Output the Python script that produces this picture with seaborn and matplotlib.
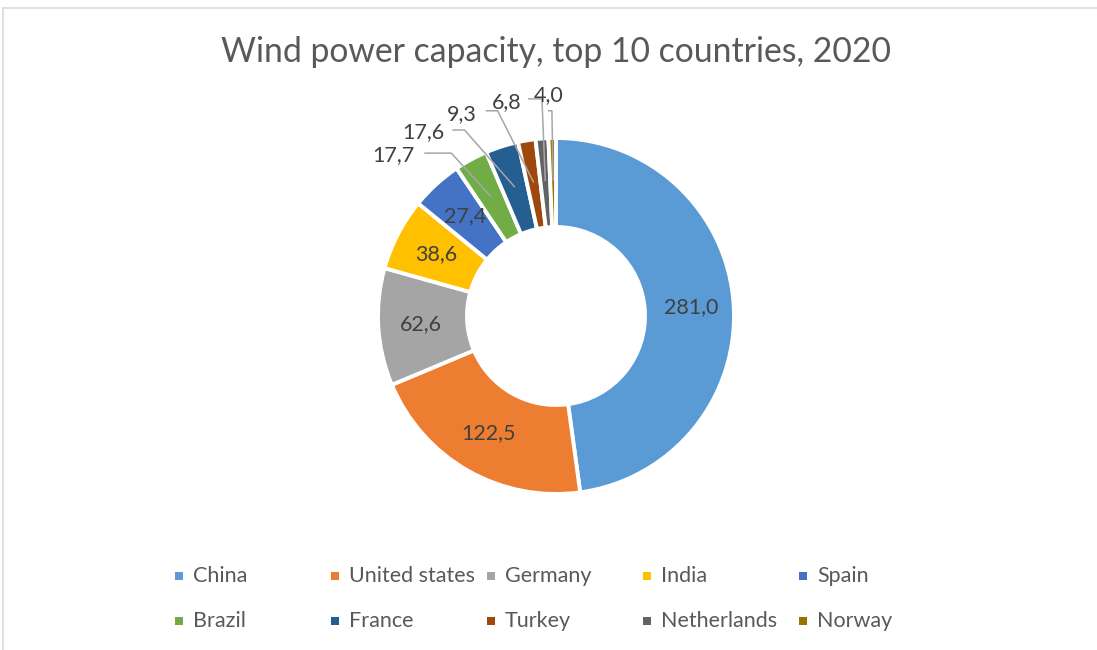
import matplotlib
matplotlib.use("Agg")
import numpy as np
import matplotlib.pyplot as plt
from matplotlib.patches import Rectangle
import seaborn as sns

# ---- data -------------------------------------------------------------
countries = ["China", "United states", "Germany", "India", "Spain",
             "Brazil", "France", "Turkey", "Netherlands", "Norway"]
capacity_gw = [281.0, 122.5, 62.6, 38.6, 27.4, 17.7, 17.6, 9.3, 6.8, 4.0]
title_text = "Wind power capacity, top 10 countries, 2020"

# ---- style ------------------------------------------------------------
colors = ["#5B9BD5", "#ED7D31", "#A5A5A5", "#FFC000", "#4472C4",
          "#70AD47", "#255E91", "#9E480E", "#636363", "#997300"]
label_color = "#404040"
text_color = "#595959"
leader_color = "#A6A6A6"

# thin slices get their labels outside with a leader line:
# index -> (label centre, line start, elbow) in axes units (radius = 1)
outside_layout = {
    5: ((-0.915, 0.904), (-0.740, 0.915), (-0.588, 0.915)),
    6: ((-0.746, 1.034), (-0.582, 1.045), (-0.514, 1.045)),
    7: ((-0.531, 1.136), (-0.395, 1.153), (-0.328, 1.153)),
    8: ((-0.277, 1.203), (-0.158, 1.220), (-0.079, 1.220)),
    9: ((-0.040, 1.243), (-0.045, 1.153), (-0.023, 1.153)),
}

sns.set_theme(style="white")
plt.rcParams["font.family"] = ["Lato", "DejaVu Sans"]

W, H = 1097, 650
fig = plt.figure(figsize=(W / 100, H / 100), dpi=100)

# chart frame
fig.add_artist(Rectangle((3 / W, -0.02), 1.2, 1 - 8 / H + 0.02,
                         transform=fig.transFigure, fill=False,
                         edgecolor="#D9D9D9", linewidth=1.2))

# donut axes: centre (556, 316) px, radius 178 px
cx, cy, R = 556, 316, 178
ax = fig.add_axes([(cx - R) / W, (H - cy - R) / H, 2 * R / W, 2 * R / H])

wedges, _ = ax.pie(capacity_gw, colors=colors, startangle=90,
                   counterclock=False, radius=1.0,
                   wedgeprops=dict(width=0.5, edgecolor="white", linewidth=2.8))
ax.set_xlim(-1, 1)
ax.set_ylim(-1, 1)
ax.axis("off")

labels = [f"{v:.1f}".replace(".", ",") for v in capacity_gw]
r_lab = 0.76
for i, w in enumerate(wedges):
    mid = np.deg2rad((w.theta1 + w.theta2) / 2)
    px, py = r_lab * np.cos(mid), r_lab * np.sin(mid)
    if i in outside_layout:
        (tx, ty), (sx, sy), (ex, ey) = outside_layout[i]
        ax.plot([sx, ex, px], [sy, ey, py], color=leader_color, lw=1.1,
                clip_on=False, solid_capstyle="butt")
        ax.text(tx, ty, labels[i], ha="center", va="center",
                fontsize=15.5, color=label_color, clip_on=False)
    else:
        ax.text(px, py, labels[i], ha="center", va="center",
                fontsize=15.5, color=label_color)

fig.text(cx / W, 1 - 52 / H, title_text, ha="center", va="center",
         fontsize=24.3, color=text_color)

# legend: two rows of five fixed-width columns
col_x0, col_pitch = 193, 156
row_y = [576, 621]
msize = 8
for i, name in enumerate(countries):
    col, row = i % 5, i // 5
    tx = col_x0 + col * col_pitch
    ty = row_y[row]
    fig.add_artist(Rectangle(((tx - 18) / W, (H - ty - msize / 2) / H),
                             msize / W, msize / H, transform=fig.transFigure,
                             facecolor=colors[i], edgecolor="none"))
    fig.text(tx / W, 1 - ty / H, name, ha="left", va="center",
             fontsize=15.5, color=text_color)

fig.savefig("out.png", dpi=100)
